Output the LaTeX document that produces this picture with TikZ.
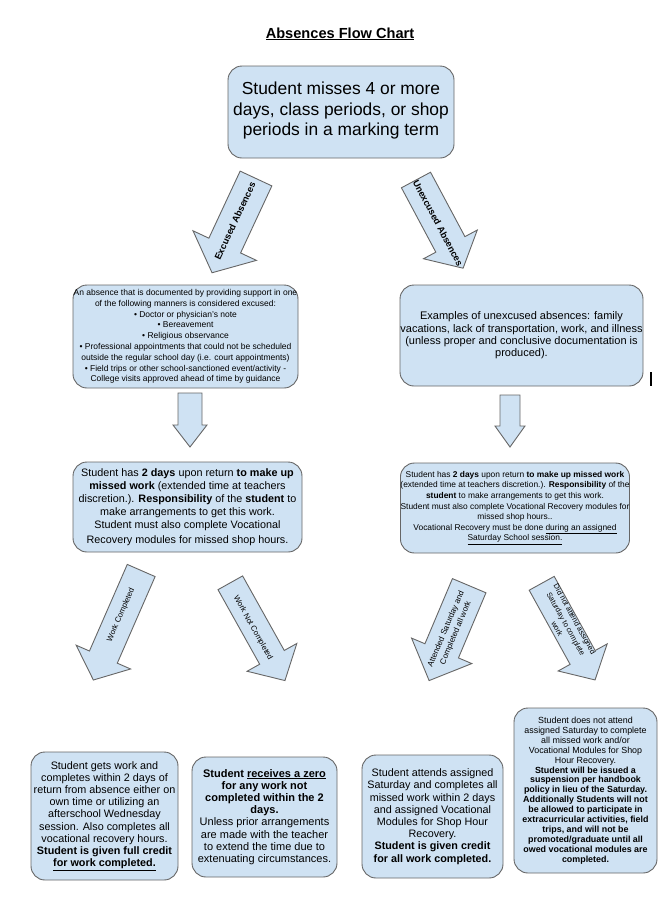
\documentclass[tikz,border=0pt]{standalone}
\usepackage{fontspec}
\setmainfont{Liberation Sans}
\definecolor{boxfill}{HTML}{CFE2F3}
\definecolor{boxline}{HTML}{666666}
\tikzset{
	flowbox/.style={draw=boxline,fill=boxfill,line width=0.9pt,rounded corners=14pt,align=center,inner sep=0pt},
	fatarrow/.style={draw=boxline,fill=boxfill,line width=0.9pt,line join=miter},
	arrowlabel/.style={align=center,inner sep=0pt}
}
\begin{document}
\begin{tikzpicture}[x=1pt,y=-1pt]
		\useasboundingbox (0,0) rectangle (666,908);
		%
		\node[anchor=base,font=\bfseries\fontsize{14.6}{16}\selectfont] (tt) at (340,38) {\underline{Absences Flow Chart}};
		%
		\node[flowbox,minimum width=226,minimum height=92,font=\fontsize{17.4}{20.5}\selectfont] (st) at (341,112)
			{Student misses 4 or more\\days, class periods, or shop\\periods in a marking term\\[-14pt]};
		%
		\node[flowbox,minimum width=225,minimum height=103,font=\fontsize{8.5}{10.8}\selectfont] (ex) at (185.5,336.5)
			{An absence that is documented by providing support in one\\
			of the following manners is considered excused:\\
			\textbullet\ Doctor or physician's note\\
			\textbullet\ Bereavement\\
			\textbullet\ Religious observance\\
			\textbullet\ Professional appointments that could not be scheduled\\
			outside the regular school day (i.e. court appointments)\\
			\textbullet\ Field trips or other school-sanctioned event/activity -\\
			College visits approved ahead of time by guidance};
		\node[flowbox,minimum width=243,minimum height=101,font=\fontsize{11}{12.3}\selectfont] (ux) at (521.5,335.5)
			{Examples of unexcused absences: family\\
			vacations, lack of transportation, work, and illness\\
			(unless proper and conclusive documentation is\\
			produced).};
		\draw[line width=1.6pt] (651,372) -- (651,386);
		%
		\node[flowbox,minimum width=229,minimum height=90,font=\fontsize{10.8}{13}\selectfont] (exw) at (187.5,507)
			{Student has \textbf{2 days} upon return \textbf{to make up}\\
			\textbf{missed work} (extended time at teachers\\
			discretion.). \textbf{Responsibility} of the \textbf{student} to\\
			make arrangements to get this work.\\
			Student must also complete Vocational\\[2pt]
			Recovery modules for missed shop hours.};
		\node[flowbox,minimum width=228,minimum height=90,font=\fontsize{8.4}{10.6}\selectfont] (uxw) at (515,508)
			{Student has \textbf{2 days} upon return \textbf{to make up missed work}\\
			(extended time at teachers discretion.). \textbf{Responsibility} of the\\
			\textbf{student} to make arrangements to get this work.\\
			Student must also complete Vocational Recovery modules for\\
			missed shop hours..\\
			Vocational Recovery must be done \underline{during an assigned}\\
			\underline{Saturday School session.}};
		%
		\node[flowbox,minimum width=147,minimum height=128,font=\fontsize{10.8}{12.2}\selectfont] (wc) at (104.5,816)
			{Student gets work and\\
			completes within 2 days of\\
			return from absence either on\\
			own time or utilizing an\\
			afterschool Wednesday\\
			session. Also completes all\\
			vocational recovery hours.\\
			\textbf{Student is given full credit}\\
			\textbf{\underline{for work completed.}}};
		\node[flowbox,minimum width=145,minimum height=120,font=\fontsize{11}{12.2}\selectfont] (wn) at (264.5,817)
			{\textbf{Student \underline{receives a zero}}\\
			\textbf{for any work not}\\
			\textbf{completed within the 2}\\
			\textbf{days.}\\
			Unless prior arrangements\\
			are made with the teacher\\
			to extend the time due to\\
			extenuating circumstances.};
		\node[flowbox,minimum width=141,minimum height=123,font=\fontsize{10.8}{12.2}\selectfont] (sa) at (432.5,816.5)
			{Student attends assigned\\
			Saturday and completes all\\
			missed work within 2 days\\
			and assigned Vocational\\
			Modules for Shop Hour\\
			Recovery.\\
			\textbf{Student is given credit}\\
			\textbf{for all work completed.}};
		\node[flowbox,minimum width=143,minimum height=165,font=\fontsize{8.9}{9.9}\selectfont] (ns) at (585.5,790.5)
			{Student does not attend\\
			assigned Saturday to complete\\
			all missed work and/or\\
			Vocational Modules for Shop\\
			Hour Recovery.\\
			\textbf{Student will be issued a}\\
			\textbf{suspension per handbook}\\
			\textbf{policy in lieu of the Saturday.}\\
			\textbf{Additionally Students will not}\\
			\textbf{be allowed to participate in}\\
			\textbf{extracurricular activities, field}\\
			\textbf{trips, and will not be}\\
			\textbf{promoted/graduate until all}\\
			\textbf{owed vocational modules are}\\
			\textbf{completed.}};
		%
		% block arrows
		\begin{scope}[shift={(256,178.5)},rotate=-115]
			\draw[fatarrow] (0,-17.5) -- (74,-17.5) -- (74,-35) -- (104,0) -- (74,35) -- (74,17.5) -- (0,17.5) -- cycle;
		\end{scope}
		\begin{scope}[shift={(416,180)},rotate=-61.9]
			\draw[fatarrow] (0,-16.5) -- (73,-16.5) -- (73,-30.5) -- (100,0) -- (73,30.5) -- (73,16.5) -- (0,16.5) -- cycle;
		\end{scope}
		\begin{scope}[shift={(190,393)},rotate=-90]
			\draw[fatarrow] (0,-12) -- (32,-12) -- (32,-17) -- (54,0) -- (32,17) -- (32,12) -- (0,12) -- cycle;
		\end{scope}
		\begin{scope}[shift={(510,395)},rotate=-90]
			\draw[fatarrow] (0,-10) -- (31,-10) -- (31,-15) -- (52,0) -- (31,15) -- (31,10) -- (0,10) -- cycle;
		\end{scope}
		\begin{scope}[shift={(141.2,570.5)},rotate=-113.6]
			\draw[fatarrow] (0,-15.2) -- (94.5,-15.2) -- (94.5,-29.7) -- (119.5,0) -- (94.5,29.7) -- (94.5,15.2) -- (0,15.2) -- cycle;
		\end{scope}
		\begin{scope}[shift={(230.3,582.8)},rotate=-60.8]
			\draw[fatarrow] (0,-14.1) -- (85.4,-14.1) -- (85.4,-28.5) -- (112,0) -- (85.4,28.5) -- (85.4,14.1) -- (0,14.1) -- cycle;
		\end{scope}
		\begin{scope}[shift={(469.2,585.7)},rotate=-112.9]
			\draw[fatarrow] (0,-18.2) -- (70.7,-18.2) -- (70.7,-32.7) -- (103,0) -- (70.7,32.7) -- (70.7,18.2) -- (0,18.2) -- cycle;
		\end{scope}
		\begin{scope}[shift={(541.7,583.3)},rotate=-61.1]
			\draw[fatarrow] (0,-14.3) -- (84.7,-14.3) -- (84.7,-28) -- (110.4,0) -- (84.7,28) -- (84.7,14.3) -- (0,14.3) -- cycle;
		\end{scope}
		%
		\node[arrowlabel,rotate=65,font=\bfseries\fontsize{9.3}{11}\selectfont] (lex) at (235,221) {Excused Absences};
		\node[arrowlabel,rotate=-62,font=\bfseries\fontsize{9.3}{11}\selectfont] (lux) at (438,223) {Unexcused Absences};
		\node[arrowlabel,rotate=66.4,font=\fontsize{7.8}{9}\selectfont] (lwc) at (121,615) {Work Completed};
		\node[arrowlabel,rotate=-60.8,font=\fontsize{7.8}{9}\selectfont] (lwn) at (253,628) {Work Not Completed};
		\node[arrowlabel,rotate=67.1,font=\fontsize{8}{10.5}\selectfont] (lsa) at (451,631) {Attended Saturday and\\Completed all work};
		\node[arrowlabel,rotate=-61,font=\fontsize{7.5}{10}\selectfont] (lns) at (566,624) {Did not attend assigned\\Saturday to complete\\work};
		%
\end{tikzpicture}
\end{document}
